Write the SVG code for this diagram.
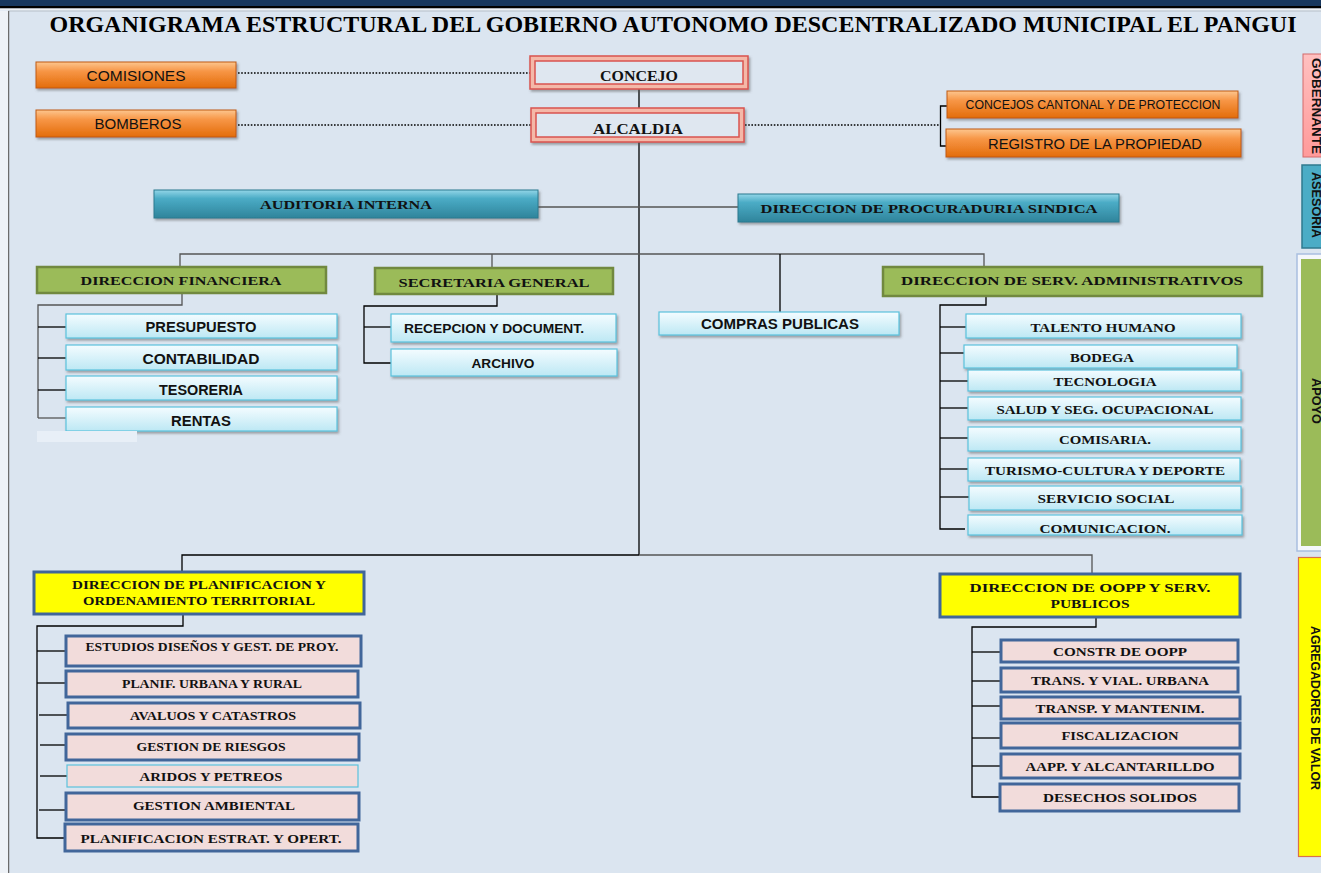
<svg xmlns="http://www.w3.org/2000/svg" width="1321" height="873" viewBox="0 0 1321 873">
<defs>
<linearGradient id="gOr" x1="0" y1="0" x2="0" y2="1"><stop offset="0" stop-color="#fdc68e"/><stop offset="0.35" stop-color="#f79646"/><stop offset="1" stop-color="#e36c0a"/></linearGradient>
<linearGradient id="gTe" x1="0" y1="0" x2="0" y2="1"><stop offset="0" stop-color="#93d6e8"/><stop offset="0.3" stop-color="#4bacc6"/><stop offset="1" stop-color="#2f849b"/></linearGradient>
<linearGradient id="gCy" x1="0" y1="0" x2="0" y2="1"><stop offset="0" stop-color="#f4fcff"/><stop offset="1" stop-color="#bde8f4"/></linearGradient>
<linearGradient id="gPk" x1="0" y1="0" x2="0" y2="1"><stop offset="0" stop-color="#ffc0c0"/><stop offset="1" stop-color="#ff9a9a"/></linearGradient>
<filter id="sh" x="-5%" y="-20%" width="110%" height="150%"><feDropShadow dx="1.5" dy="2" stdDeviation="1" flood-color="#555" flood-opacity="0.5"/></filter>
<style>
.or{fill:url(#gOr);stroke:#c05a10;stroke-width:1;filter:url(#sh)}
.te{fill:url(#gTe);stroke:#2b7a90;stroke-width:1;filter:url(#sh)}
.cy{fill:url(#gCy);stroke:#5bc2dc;stroke-width:1.2;filter:url(#sh)}
.gr{fill:#9bbb59;stroke:#71893f;stroke-width:2.5}
.ye{fill:#ffff00;stroke:#41669a;stroke-width:3}
.pk{fill:#f2dcdb;stroke:#41669a;stroke-width:3}
.pk2{fill:#f2dcdb;stroke:#5bc2dc;stroke-width:1.2}
.ro{fill:#f4b8a8;stroke:#d9534f;stroke-width:1.5;filter:url(#sh)}
.ri{fill:#dfe7f0;stroke:#d9534f;stroke-width:1.5}
.ln{stroke:#000;stroke-width:1.3;fill:none}
.lg{stroke:#555;stroke-width:1.3;fill:none}
.dt{stroke:#000;stroke-width:1.6;stroke-dasharray:1.6 1.6;fill:none}
.sf{font-family:"Liberation Serif","Times New Roman",serif;font-weight:bold;fill:#111;text-anchor:middle}
.ss{font-family:"Liberation Sans",Arial,sans-serif;fill:#111;text-anchor:middle}
.sb{font-family:"Liberation Sans",Arial,sans-serif;font-weight:bold;fill:#111;text-anchor:middle}
.vt{font-family:"Liberation Sans",Arial,sans-serif;font-weight:bold;fill:#111;font-size:12px}
</style>
</defs>
<rect x="0" y="0" width="1321" height="873" fill="#dbe5f0"/>
<rect x="0" y="0" width="1321" height="6" fill="#17375e"/>
<rect x="0" y="6" width="1321" height="2.5" fill="#000"/>
<rect x="0" y="8.5" width="1321" height="2" fill="#eef2f7"/>
<line x1="8" y1="11" x2="1321" y2="11" stroke="#b8c0c8" stroke-width="1"/>
<line x1="8.5" y1="11" x2="8.5" y2="873" stroke="#6b6b6b" stroke-width="1.5"/>
<rect x="0" y="11" width="8" height="862" fill="#eef2f7"/>

<text x="673" y="31.5" font-family="Liberation Serif,'Times New Roman',serif" font-weight="bold" font-size="23" text-anchor="middle" textLength="1247" lengthAdjust="spacingAndGlyphs" fill="#000">ORGANIGRAMA ESTRUCTURAL DEL GOBIERNO AUTONOMO DESCENTRALIZADO MUNICIPAL EL PANGUI</text>

<g id="connectors">
<line class="dt" x1="238" y1="73" x2="537" y2="73"/>
<line class="dt" x1="238" y1="125" x2="537" y2="125"/>
<line class="dt" x1="745" y1="125" x2="940" y2="125"/>
<polyline class="ln" points="947,106 940.5,106 940.5,146 947,146" stroke-width="1.6"/>
<line class="ln" x1="639" y1="89" x2="639" y2="108" stroke-width="1.8"/>
<line class="ln" x1="639" y1="142" x2="639" y2="555" stroke-width="1.5"/>
<line class="lg" x1="538" y1="207" x2="738" y2="207"/>
<polyline class="lg" points="180,268 180,254 984,254 984,267"/>
<line class="lg" x1="492" y1="254" x2="492" y2="268"/>
<line class="ln" x1="780" y1="254" x2="780" y2="312"/>
<polyline class="lg" points="182,293 182,305 38,305 38,418"/>
<line class="ln" x1="38" y1="327" x2="66" y2="327"/>
<line class="ln" x1="38" y1="358" x2="66" y2="358"/>
<line class="ln" x1="38" y1="390" x2="66" y2="390"/>
<line class="lg" x1="38" y1="418" x2="66" y2="418"/>
<polyline class="ln" points="497,294 497,306 364,306 364,363 391,363"/>
<line class="ln" x1="364" y1="327" x2="391" y2="327"/>
<polyline class="ln" points="986,296 986,305 940,305 940,529 965,529"/>
<line class="ln" x1="940" y1="327" x2="966" y2="327"/>
<line class="ln" x1="940" y1="353" x2="964" y2="353"/>
<line class="ln" x1="940" y1="381" x2="968" y2="381"/>
<line class="ln" x1="940" y1="408" x2="968" y2="408"/>
<line class="ln" x1="940" y1="438" x2="968" y2="438"/>
<line class="ln" x1="940" y1="469" x2="968" y2="469"/>
<line class="ln" x1="940" y1="497" x2="969" y2="497"/>
<polyline class="ln" points="182,572 182,555 639,555"/>
<polyline class="lg" points="639,555 1092,555 1092,574"/>
<polyline class="ln" points="183,614 183,626 37,626 37,838 65,838"/>
<line class="ln" x1="37" y1="651" x2="66" y2="651"/>
<line class="ln" x1="37" y1="683" x2="66" y2="683"/>
<line class="ln" x1="39" y1="715" x2="68" y2="715"/>
<line class="ln" x1="40" y1="745" x2="66" y2="745"/>
<line class="ln" x1="40" y1="776" x2="67" y2="776"/>
<line class="ln" x1="39" y1="810" x2="66" y2="810"/>
<polyline class="ln" points="1096,617 1096,627 972,627 972,797 1000,797"/>
<line class="ln" x1="972" y1="652" x2="1001" y2="652"/>
<line class="ln" x1="972" y1="681" x2="1001" y2="681"/>
<line class="ln" x1="972" y1="706" x2="1001" y2="706"/>
<line class="ln" x1="972" y1="738" x2="1001" y2="738"/>
<line class="ln" x1="972" y1="766" x2="1001" y2="766"/>
</g>

<g id="comisiones"><rect class="or" x="36" y="62" width="200" height="26"/><text class="ss" x="136" y="80.5" font-size="15" textLength="99" lengthAdjust="spacingAndGlyphs">COMISIONES</text></g>
<g id="bomberos"><rect class="or" x="36" y="110" width="200" height="27"/><text class="ss" x="138" y="129" font-size="15" textLength="87" lengthAdjust="spacingAndGlyphs">BOMBEROS</text></g>
<g id="concejo"><rect class="ro" x="530" y="56" width="218" height="33"/><rect class="ri" x="535" y="61" width="208" height="23"/><text class="sf" x="639" y="80.5" font-size="14.5" textLength="78" lengthAdjust="spacingAndGlyphs">CONCEJO</text></g>
<g id="alcaldia"><rect class="ro" x="531" y="108" width="213" height="34"/><rect class="ri" x="536" y="113" width="203" height="24"/><text class="sf" x="638" y="133.5" font-size="14.5" textLength="90" lengthAdjust="spacingAndGlyphs">ALCALDIA</text></g>
<g id="concejos-cantonal"><rect class="or" x="947" y="91" width="291" height="27"/><text class="ss" x="1093" y="108.5" font-size="12" textLength="255" lengthAdjust="spacingAndGlyphs">CONCEJOS CANTONAL  Y DE PROTECCION</text></g>
<g id="registro"><rect class="or" x="946" y="129" width="295" height="28"/><text class="ss" x="1095" y="149" font-size="15.5" textLength="214" lengthAdjust="spacingAndGlyphs">REGISTRO DE LA PROPIEDAD</text></g>

<g id="auditoria"><rect class="te" x="154" y="190" width="384" height="28"/><text class="sf" x="346" y="209" font-size="13.5" textLength="172" lengthAdjust="spacingAndGlyphs">AUDITORIA  INTERNA</text></g>
<g id="procuraduria"><rect class="te" x="738" y="194" width="381" height="28"/><text class="sf" x="929" y="213" font-size="13.5" textLength="337" lengthAdjust="spacingAndGlyphs">DIRECCION  DE PROCURADURIA  SINDICA</text></g>

<g id="dir-financiera"><rect class="gr" x="37" y="267" width="289" height="26"/><text class="sf" x="181" y="285" font-size="13.5" textLength="201" lengthAdjust="spacingAndGlyphs">DIRECCION  FINANCIERA</text></g>
<g id="secretaria"><rect class="gr" x="375" y="268" width="238" height="26"/><text class="sf" x="494" y="286.5" font-size="13.5" textLength="191" lengthAdjust="spacingAndGlyphs">SECRETARIA  GENERAL</text></g>
<g id="compras"><rect class="cy" x="659" y="312" width="240" height="23"/><text class="sb" x="780" y="329" font-size="14.5" textLength="158" lengthAdjust="spacingAndGlyphs">COMPRAS PUBLICAS</text></g>
<g id="dir-serv-adm"><rect class="gr" x="883" y="267" width="379" height="29"/><text class="sf" x="1072" y="285" font-size="13.5" textLength="342" lengthAdjust="spacingAndGlyphs">DIRECCION  DE SERV.  ADMINISTRATIVOS</text></g>

<g id="presupuesto"><rect class="cy" x="66" y="314" width="271" height="24"/><text class="sb" x="201" y="332" font-size="14.5" textLength="111" lengthAdjust="spacingAndGlyphs">PRESUPUESTO</text></g>
<g id="contabilidad"><rect class="cy" x="66" y="345" width="271" height="25"/><text class="sb" x="201" y="363.5" font-size="14.5" textLength="117" lengthAdjust="spacingAndGlyphs">CONTABILIDAD</text></g>
<g id="tesoreria"><rect class="cy" x="66" y="376" width="271" height="24"/><text class="sb" x="201" y="394.5" font-size="14.5" textLength="84" lengthAdjust="spacingAndGlyphs">TESORERIA</text></g>
<g id="rentas"><rect class="cy" x="66" y="407" width="271" height="24"/><text class="sb" x="201" y="425.5" font-size="14.5" textLength="60" lengthAdjust="spacingAndGlyphs">RENTAS</text></g>
<rect x="37" y="431" width="100" height="11" fill="#e8eff7"/>

<g id="recepcion"><rect class="cy" x="391" y="314" width="225" height="28"/><text class="sb" x="494" y="333" font-size="12.5" textLength="180" lengthAdjust="spacingAndGlyphs">RECEPCION  Y DOCUMENT.</text></g>
<g id="archivo"><rect class="cy" x="391" y="349" width="226" height="27"/><text class="sb" x="503" y="367.5" font-size="12.5" textLength="63" lengthAdjust="spacingAndGlyphs">ARCHIVO</text></g>

<g id="talento"><rect class="cy" x="966" y="314" width="275" height="24"/><text class="sf" x="1103" y="331.5" font-size="13" textLength="145" lengthAdjust="spacingAndGlyphs">TALENTO  HUMANO</text></g>
<g id="bodega"><rect class="cy" x="964" y="345" width="273" height="23"/><text class="sf" x="1102" y="362" font-size="13" textLength="64" lengthAdjust="spacingAndGlyphs">BODEGA</text></g>
<g id="tecnologia"><rect class="cy" x="968" y="370" width="273" height="21"/><text class="sf" x="1105" y="386" font-size="13" textLength="103" lengthAdjust="spacingAndGlyphs">TECNOLOGIA</text></g>
<g id="salud"><rect class="cy" x="968" y="397" width="273" height="23"/><text class="sf" x="1105" y="414" font-size="13" textLength="217" lengthAdjust="spacingAndGlyphs">SALUD Y SEG. OCUPACIONAL</text></g>
<g id="comisaria"><rect class="cy" x="968" y="427" width="273" height="24"/><text class="sf" x="1105" y="444" font-size="13" textLength="92" lengthAdjust="spacingAndGlyphs">COMISARIA.</text></g>
<g id="turismo"><rect class="cy" x="968" y="458" width="272" height="23"/><text class="sf" x="1105" y="475" font-size="13" textLength="240" lengthAdjust="spacingAndGlyphs">TURISMO-CULTURA  Y DEPORTE</text></g>
<g id="servicio-social"><rect class="cy" x="969" y="486" width="272" height="24"/><text class="sf" x="1106" y="503" font-size="13" textLength="137" lengthAdjust="spacingAndGlyphs">SERVICIO SOCIAL</text></g>
<g id="comunicacion"><rect class="cy" x="968" y="515" width="274" height="20"/><text class="sf" x="1105" y="532.5" font-size="13" textLength="131" lengthAdjust="spacingAndGlyphs">COMUNICACION.</text></g>

<g id="dir-planificacion"><rect class="ye" x="34" y="572" width="330" height="42"/><text class="sf" x="199" y="589" font-size="12" textLength="254" lengthAdjust="spacingAndGlyphs">DIRECCION DE PLANIFICACION  Y</text><text class="sf" x="199" y="605" font-size="12" textLength="232" lengthAdjust="spacingAndGlyphs">ORDENAMIENTO  TERRITORIAL</text></g>
<g id="estudios"><rect class="pk" x="66" y="636" width="295" height="30"/><text class="sf" x="212" y="651" font-size="11.5" textLength="253" lengthAdjust="spacingAndGlyphs">ESTUDIOS DISEÑOS Y GEST. DE PROY.</text></g>
<g id="planif-urbana"><rect class="pk" x="66" y="671" width="292" height="26"/><text class="sf" x="212" y="688" font-size="11.5" textLength="180" lengthAdjust="spacingAndGlyphs">PLANIF. URBANA Y RURAL</text></g>
<g id="avaluos"><rect class="pk" x="68" y="703" width="292" height="25"/><text class="sf" x="213" y="719.5" font-size="11.5" textLength="166" lengthAdjust="spacingAndGlyphs">AVALUOS Y CATASTROS</text></g>
<g id="riesgos"><rect class="pk" x="66" y="734" width="293" height="26"/><text class="sf" x="211" y="750.5" font-size="11.5" textLength="149" lengthAdjust="spacingAndGlyphs">GESTION DE RIESGOS</text></g>
<g id="aridos"><rect class="pk2" x="67" y="765" width="291" height="22"/><text class="sf" x="211" y="780.5" font-size="11.5" textLength="143" lengthAdjust="spacingAndGlyphs">ARIDOS  Y PETREOS</text></g>
<g id="ambiental"><rect class="pk" x="66" y="793" width="293" height="27"/><text class="sf" x="214" y="809.5" font-size="11.5" textLength="162" lengthAdjust="spacingAndGlyphs">GESTION AMBIENTAL</text></g>
<g id="planif-estrat"><rect class="pk" x="65" y="824" width="293" height="27"/><text class="sf" x="211" y="842.5" font-size="11.5" textLength="261" lengthAdjust="spacingAndGlyphs">PLANIFICACION  ESTRAT. Y OPERT.</text></g>

<g id="dir-oopp"><rect class="ye" x="940" y="574" width="300" height="43"/><text class="sf" x="1090" y="592" font-size="12" textLength="241" lengthAdjust="spacingAndGlyphs">DIRECCION  DE OOPP Y SERV.</text><text class="sf" x="1090" y="608" font-size="12" textLength="79" lengthAdjust="spacingAndGlyphs">PUBLICOS</text></g>
<g id="constr"><rect class="pk" x="1001" y="640" width="237" height="22"/><text class="sf" x="1120" y="656" font-size="11.5" textLength="134" lengthAdjust="spacingAndGlyphs">CONSTR DE OOPP</text></g>
<g id="trans-vial"><rect class="pk" x="1001" y="668" width="237" height="24"/><text class="sf" x="1120" y="684.5" font-size="11.5" textLength="178" lengthAdjust="spacingAndGlyphs">TRANS. Y VIAL.  URBANA</text></g>
<g id="transp"><rect class="pk" x="1001" y="697" width="239" height="22"/><text class="sf" x="1120" y="712.5" font-size="11.5" textLength="169" lengthAdjust="spacingAndGlyphs">TRANSP. Y MANTENIM.</text></g>
<g id="fiscalizacion"><rect class="pk" x="1001" y="723" width="239" height="25"/><text class="sf" x="1120" y="739.5" font-size="11.5" textLength="117" lengthAdjust="spacingAndGlyphs">FISCALIZACION</text></g>
<g id="aapp"><rect class="pk" x="1001" y="754" width="239" height="24"/><text class="sf" x="1120" y="770.5" font-size="11.5" textLength="189" lengthAdjust="spacingAndGlyphs">AAPP.  Y ALCANTARILLDO</text></g>
<g id="desechos"><rect class="pk" x="1000" y="784" width="239" height="27"/><text class="sf" x="1120" y="801.5" font-size="11.5" textLength="154" lengthAdjust="spacingAndGlyphs">DESECHOS SOLIDOS</text></g>

<g id="gobernante"><rect x="1303" y="54" width="24" height="103" fill="url(#gPk)" stroke="#d46a6a" stroke-width="1"/><text class="vt" transform="translate(1312,58) rotate(90)" textLength="96" lengthAdjust="spacingAndGlyphs">GOBERNANTE</text></g>
<g id="asesoria"><rect x="1302" y="165" width="24" height="83" fill="#4bacc6" stroke="#2f7a8f" stroke-width="1.5"/><text class="vt" transform="translate(1312,172) rotate(90)" textLength="66" lengthAdjust="spacingAndGlyphs">ASESORIA</text></g>
<g id="apoyo"><rect x="1297" y="254" width="30" height="297" fill="#f4f7fb" stroke="#a9bfdf" stroke-width="1.5"/><rect x="1301" y="259" width="26" height="287" fill="#9bbb59"/><text class="vt" transform="translate(1312,378) rotate(90)" textLength="46" lengthAdjust="spacingAndGlyphs">APOYO</text></g>
<g id="agregadores"><rect x="1298.5" y="557.5" width="30" height="299" fill="#ffff00" stroke="#d9704a" stroke-width="1.2"/><text class="vt" transform="translate(1311,626) rotate(90)" textLength="164" lengthAdjust="spacingAndGlyphs">AGREGADORES DE VALOR</text></g>
</svg>
